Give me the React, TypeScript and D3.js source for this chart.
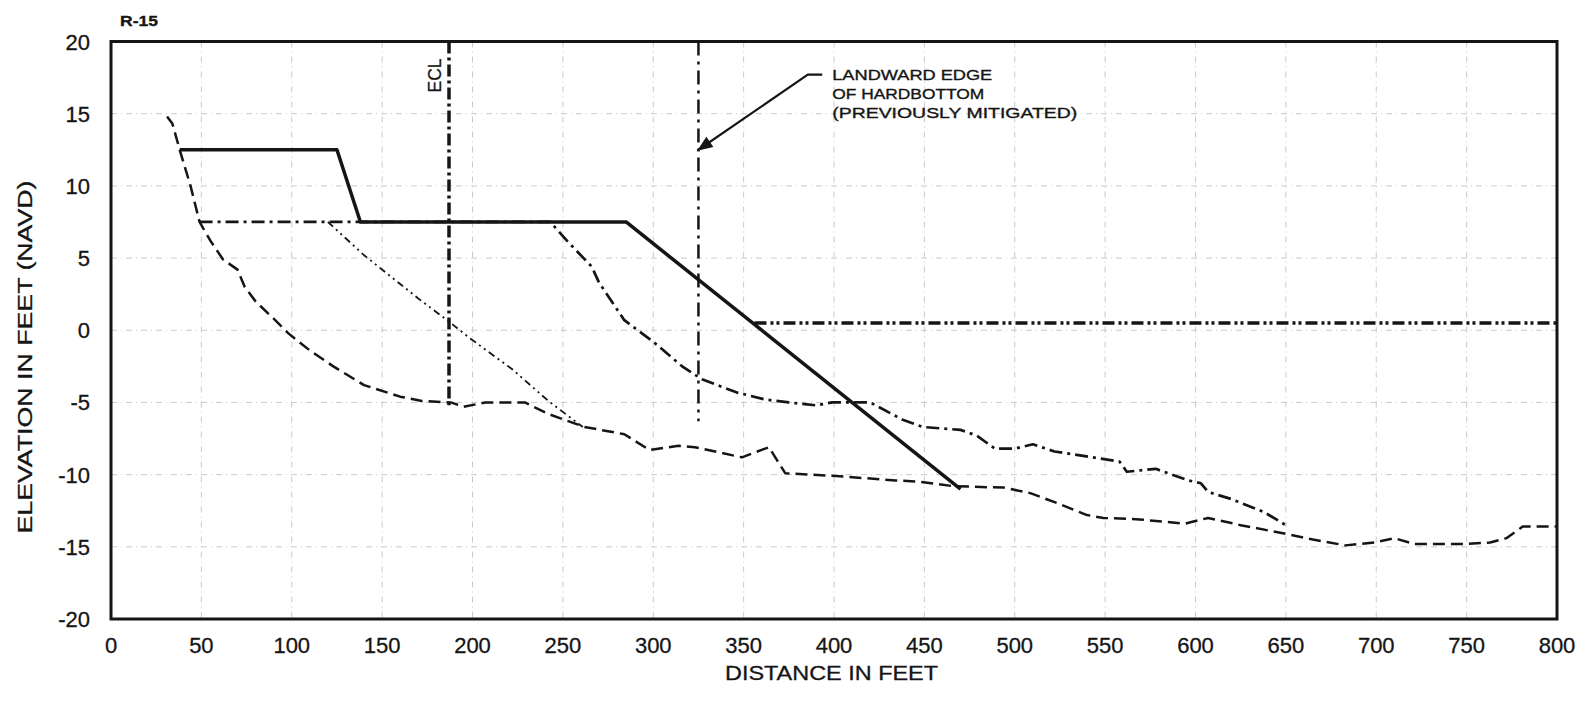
import * as d3 from "d3";

// profile R-15 data (distance ft, elevation ft NAVD)
const designTemplate: [number, number][] = [
  [38, 12.5], [125, 12.5], [138, 7.5], [285, 7.5], [470, -11],
];

const preSurvey: [number, number][] = [
  [31, 14.8], [34, 14.3], [38, 12.5], [44, 10], [49, 7.5], [55, 6.2], [62, 4.9],
  [70, 4.2], [74, 3.0], [80, 2.0], [90, 0.8], [98, -0.2], [110, -1.4], [123, -2.5],
  [140, -3.8], [160, -4.6], [172, -4.9], [188, -5.0], [195, -5.3], [207, -5.0],
  [229, -5.0], [242, -5.8], [262, -6.7], [284, -7.2], [298, -8.3], [314, -8.0],
  [323, -8.1], [349, -8.8], [364, -8.1], [373, -9.9], [401, -10.1], [434, -10.4],
  [448, -10.5], [466, -10.8], [494, -10.9], [509, -11.3], [524, -12.0], [540, -12.8],
  [549, -13.0], [569, -13.1], [594, -13.4], [607, -13.0], [625, -13.5], [650, -14.1],
  [665, -14.5], [683, -14.9], [699, -14.7], [710, -14.4], [721, -14.8], [750, -14.8],
  [763, -14.7], [772, -14.4], [781, -13.6], [800, -13.6],
];

const postSurvey: [number, number][] = [
  [49, 7.5], [243, 7.5], [253, 6.1], [266, 4.4], [270, 3.3], [284, 0.7], [301, -0.9],
  [316, -2.5], [327, -3.4], [346, -4.3], [362, -4.8], [375, -5.0], [390, -5.2],
  [399, -5.0], [420, -5.0], [438, -6.2], [449, -6.7], [470, -6.9], [479, -7.3],
  [489, -8.2], [500, -8.2], [510, -7.9], [522, -8.4], [538, -8.7], [558, -9.1],
  [562, -9.8], [578, -9.6], [596, -10.4], [603, -10.6], [607, -11.2], [620, -11.7],
  [638, -12.6], [650, -13.5],
];

const equilibrated: [number, number][] = [
  [120, 7.5], [140, 5.2], [151, 4.1], [170, 2.2], [187, 0.6], [198, -0.5],
  [222, -2.7], [242, -4.9], [261, -6.7],
];

const waterLevel: [number, number][] = [[356, 0.5], [800, 0.5]];
const eclLine: [number, number][] = [[187, 20], [187, -5.2]];
const hardbottomLine: [number, number][] = [[325, 20], [325, -6.3]];

const xTicks = [0, 50, 100, 150, 200, 250, 300, 350, 400, 450, 500, 550, 600, 650, 700, 750, 800];
const yTicks = [20, 15, 10, 5, 0, -5, -10, -15, -20];

// annotation leader: text anchor, elbow, arrow tip (data units)
const leaderPts: [number, number][] = [[393.5, 17.7], [385.5, 17.7], [325, 12.5]];
const noteLines = ["LANDWARD EDGE", "OF HARDBOTTOM", "(PREVIOUSLY MITIGATED)"];
const noteLengths = [160, 152, 245];

const W = 1585;
const H = 702;
const font = "'Liberation Sans', Arial, sans-serif";

export default function App() {
  const x = d3.scaleLinear().domain([0, 800]).range([111, 1557]);
  const y = d3.scaleLinear().domain([-20, 20]).range([619, 41.5]);
  const line = d3
    .line<[number, number]>()
    .x((d) => x(d[0]))
    .y((d) => y(d[1]));

  const ink = "#151515";

  return (
    <svg
      width={W}
      height={H}
      style={{ position: "absolute", left: 0, top: 0, display: "block", background: "#fff" }}
    >
      <defs>
        <marker id="arr" viewBox="0 0 10 10" refX="9" refY="5" markerWidth="9" markerHeight="7" orient="auto">
          <path d="M0,1 L10,5 L0,9 Z" fill={ink} />
        </marker>
      </defs>

      {/* grid */}
      <g stroke="#a0a0a0" strokeWidth={1} strokeDasharray="6 4 1 4" opacity={0.55}>
        {xTicks.slice(1, -1).map((t) => (
          <line key={"gx" + t} x1={x(t)} x2={x(t)} y1={y(20)} y2={y(-20)} />
        ))}
        {yTicks.slice(1, -1).map((t) => (
          <line key={"gy" + t} x1={x(0)} x2={x(800)} y1={y(t)} y2={y(t)} />
        ))}
      </g>

      {/* profiles */}
      <g fill="none" stroke={ink} strokeLinejoin="round">
        <path d={line(preSurvey) || ""} strokeWidth={2.5} strokeDasharray="12 6" />
        <path d={line(postSurvey) || ""} strokeWidth={2.7} strokeDasharray="13 5 3 5" />
        <path d={line(equilibrated) || ""} strokeWidth={1.8} strokeDasharray="7 4 2 4 2 4" />
        <path d={line(waterLevel) || ""} strokeWidth={3.5} strokeDasharray="12 4 3 3 3 4" />
        <path d={line(eclLine) || ""} strokeWidth={3.5} strokeDasharray="12 4 3 4" />
        <path d={line(hardbottomLine) || ""} strokeWidth={2.5} strokeDasharray="14 6 3 6" />
        <path d={line(designTemplate) || ""} strokeWidth={3.5} strokeDasharray="none" />
        <path d={line(leaderPts) || ""} strokeWidth={2.2} markerEnd="url(#arr)" />
      </g>

      {/* frame */}
      <rect
        x={x(0)}
        y={y(20)}
        width={x(800) - x(0)}
        height={y(-20) - y(20)}
        fill="none"
        stroke={ink}
        strokeWidth={3}
      />

      {/* tick labels */}
      <g fontFamily={font} fontSize={22} fill={ink} stroke={ink} strokeWidth={0.3}>
        {xTicks.map((t) => (
          <text key={"tx" + t} x={x(t)} y={653} textAnchor="middle">
            {t}
          </text>
        ))}
        {yTicks.map((t) => (
          <text key={"ty" + t} x={90} y={y(t) + 8} textAnchor="end">
            {t}
          </text>
        ))}
      </g>

      {/* titles */}
      <g fontFamily={font} fill={ink} stroke={ink} strokeWidth={0.3}>
        <text x={725} y={680} fontSize={21} textLength={213} lengthAdjust="spacingAndGlyphs">
          DISTANCE IN FEET
        </text>
        <text
          transform={`translate(32,357) rotate(-90)`}
          fontSize={21}
          textAnchor="middle"
          textLength={353}
          lengthAdjust="spacingAndGlyphs"
        >
          ELEVATION IN FEET (NAVD)
        </text>
        <text x={120} y={26} fontSize={15} fontWeight="bold" textLength={38} lengthAdjust="spacingAndGlyphs">
          R-15
        </text>
        <text
          transform={`translate(${x(187) - 8},${y(20) + 17}) rotate(-90)`}
          fontSize={18}
          textAnchor="end"
          textLength={34}
          lengthAdjust="spacingAndGlyphs"
        >
          ECL
        </text>
      </g>

      {/* annotation */}
      <g fontFamily={font} fontSize={15} fill={ink} stroke={ink} strokeWidth={0.35}>
        {noteLines.map((s, i) => (
          <text
            key={s}
            x={x(leaderPts[0][0]) + 10}
            y={y(leaderPts[0][1]) + 5 + i * 19}
            textLength={noteLengths[i]}
            lengthAdjust="spacingAndGlyphs"
          >
            {s}
          </text>
        ))}
      </g>
    </svg>
  );
}
